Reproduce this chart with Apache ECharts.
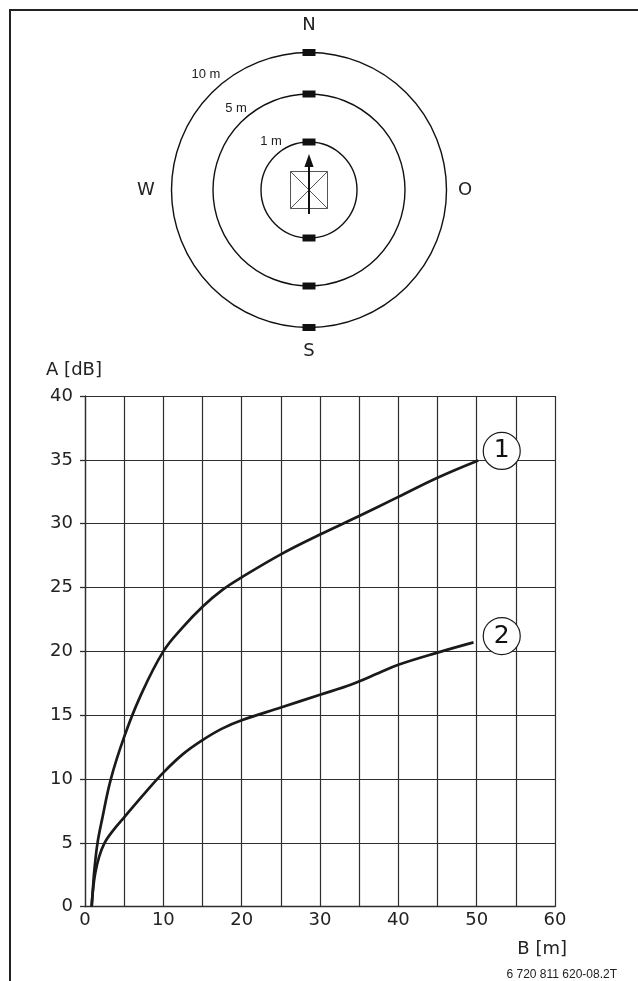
<!DOCTYPE html>
<html>
<head>
<meta charset="utf-8">
<script src="https://cdn.jsdelivr.net/npm/echarts@6/dist/echarts.min.js"></script>
<style>
  html, body { margin: 0; padding: 0; background: #fff; }
  #chart { width: 638px; height: 981px; }
</style>
</head>
<body>
<div id="chart"></div>
<script>
// Sound level A [dB] over distance B [m]
const curve1B = [0.85, 1.0, 1.2, 1.6, 2.2, 3.3, 5, 7, 10, 12.5, 15, 17.5, 20, 25, 30, 35, 40, 45, 50.2];
const curve1A = [0, 1.3, 2.9, 5, 6.9, 10, 13.3, 16.4, 20, 21.9, 23.5, 24.8, 25.8, 27.6, 29.15, 30.6, 32.1, 33.6, 34.95];
const curve2B = [0.85, 1.0, 1.3, 1.8, 2.5, 3.5, 5, 7.5, 10, 12.5, 15, 17.5, 20, 25, 30, 34, 37.5, 40, 45, 49.6];
const curve2A = [0, 1.2, 2.6, 3.9, 5.0, 5.9, 7.0, 8.8, 10.5, 11.95, 13.05, 13.95, 14.6, 15.6, 16.6, 17.4, 18.3, 18.95, 19.9, 20.7];
const curveNames = ['1', '2'];

// Compass figure texts
const ringLabels = ['1 m', '5 m', '10 m'];
const directions = ['N', 'O', 'S', 'W'];
const axisTitles = { y: 'A [dB]', x: 'B [m]' };
const footerCode = '6 720 811 620-08.2T';

const zip = (xs, ys) => xs.map((x, i) => [x, ys[i]]);

const INK = '#1a1a1a';
const GRIDC = '#2e2e2e';
const FONT = 'DejaVu Sans';

// Compass drawing
const cx = 309, cy = 190;
const radii = [48, 96, 137.5];
const ringLabelPos = [[271, 141], [236, 108], [206, 74]];
const compass = [];
radii.forEach(r => {
  compass.push({ type: 'circle', shape: { cx, cy, r }, style: { fill: 'none', stroke: '#111', lineWidth: 1.4 } });
  [-1, 1].forEach(s => {
    compass.push({ type: 'rect', shape: { x: cx - 6.5, y: cy + s * r - 3.5, width: 13, height: 7 }, style: { fill: '#111' }, z: 10 });
  });
});
ringLabels.forEach((t, i) => {
  compass.push({ type: 'text', style: { text: t, x: ringLabelPos[i][0], y: ringLabelPos[i][1], font: '13px "Liberation Sans"', fill: '#222', textAlign: 'center', textVerticalAlign: 'middle' } });
});
const dirPos = { N: [309, 25], O: [465, 190], S: [309, 351], W: [146, 190] };
directions.forEach(d => {
  compass.push({ type: 'text', style: { text: d, x: dirPos[d][0], y: dirPos[d][1], font: '18px "' + FONT + '"', fill: '#222', textAlign: 'center', textVerticalAlign: 'middle' } });
});
// Appliance symbol with direction arrow
const half = 18.5;
compass.push({ type: 'rect', shape: { x: cx - half, y: cy - half, width: 2 * half, height: 2 * half }, style: { fill: 'none', stroke: '#555', lineWidth: 1 } });
compass.push({ type: 'line', shape: { x1: cx - half, y1: cy - half, x2: cx + half, y2: cy + half }, style: { stroke: '#555', lineWidth: 1 } });
compass.push({ type: 'line', shape: { x1: cx + half, y1: cy - half, x2: cx - half, y2: cy + half }, style: { stroke: '#555', lineWidth: 1 } });
compass.push({ type: 'line', shape: { x1: cx, y1: 214, x2: cx, y2: 165 }, style: { stroke: '#111', lineWidth: 2 } });
compass.push({ type: 'polygon', shape: { points: [[cx, 154], [cx - 4.6, 167], [cx + 4.6, 167]] }, style: { fill: '#111' } });

// Frame and captions
const frame = [
  { type: 'line', shape: { x1: 9, y1: 10, x2: 638, y2: 10 }, style: { stroke: '#222', lineWidth: 2 } },
  { type: 'line', shape: { x1: 10, y1: 9, x2: 10, y2: 981 }, style: { stroke: '#222', lineWidth: 2 } },
  { type: 'text', style: { text: axisTitles.y, x: 74, y: 370, font: '18px "' + FONT + '"', fill: '#222', textAlign: 'center', textVerticalAlign: 'middle' } },
  { type: 'text', style: { text: axisTitles.x, x: 567, y: 949, font: '18px "' + FONT + '"', fill: '#222', textAlign: 'right', textVerticalAlign: 'middle' } },
  { type: 'text', style: { text: footerCode, x: 617, y: 975, font: '12px "Liberation Sans"', fill: '#222', textAlign: 'right', textVerticalAlign: 'middle' } }
];

const chart = echarts.init(document.getElementById('chart'), null, { renderer: 'canvas' });

const markFor = (name, at) => ({
  silent: true,
  symbol: 'circle',
  symbolSize: 37,
  itemStyle: { color: '#fff', borderColor: INK, borderWidth: 1.2 },
  label: { show: true, formatter: name, color: '#111', fontSize: 25, fontFamily: FONT },
  data: [{ coord: at }]
});

chart.setOption({
  animation: false,
  backgroundColor: '#fff',
  grid: { left: 85, right: 83, top: 396, bottom: 74.3, containLabel: false },
  xAxis: {
    type: 'value', min: 0, max: 60, interval: 5,
    axisLine: { show: true, lineStyle: { color: GRIDC, width: 1.3 } },
    axisTick: { show: false },
    axisLabel: {
      margin: 5, color: '#222', fontSize: 18, fontFamily: FONT,
      formatter: v => (v % 10 === 0 ? String(v) : '')
    },
    splitLine: { show: true, lineStyle: { color: GRIDC, width: 1.2 } }
  },
  yAxis: {
    type: 'value', min: 0, max: 40, interval: 5,
    axisLine: { show: true, lineStyle: { color: GRIDC, width: 1.3 } },
    axisTick: { show: true, length: 5, lineStyle: { color: GRIDC, width: 1.3 } },
    axisLabel: { margin: 12, color: '#222', fontSize: 18, fontFamily: FONT },
    splitLine: { show: true, lineStyle: { color: GRIDC, width: 1.2 } }
  },
  graphic: compass.concat(frame),
  series: [
    {
      name: curveNames[0], type: 'line', data: zip(curve1B, curve1A),
      smooth: 0.4, showSymbol: false,
      lineStyle: { color: INK, width: 2.7 },
      markPoint: markFor(curveNames[0], [53.2, 35.7])
    },
    {
      name: curveNames[1], type: 'line', data: zip(curve2B, curve2A),
      smooth: 0.4, showSymbol: false,
      lineStyle: { color: INK, width: 2.7 },
      markPoint: markFor(curveNames[1], [53.2, 21.2])
    }
  ]
});
</script>
</body>
</html>
